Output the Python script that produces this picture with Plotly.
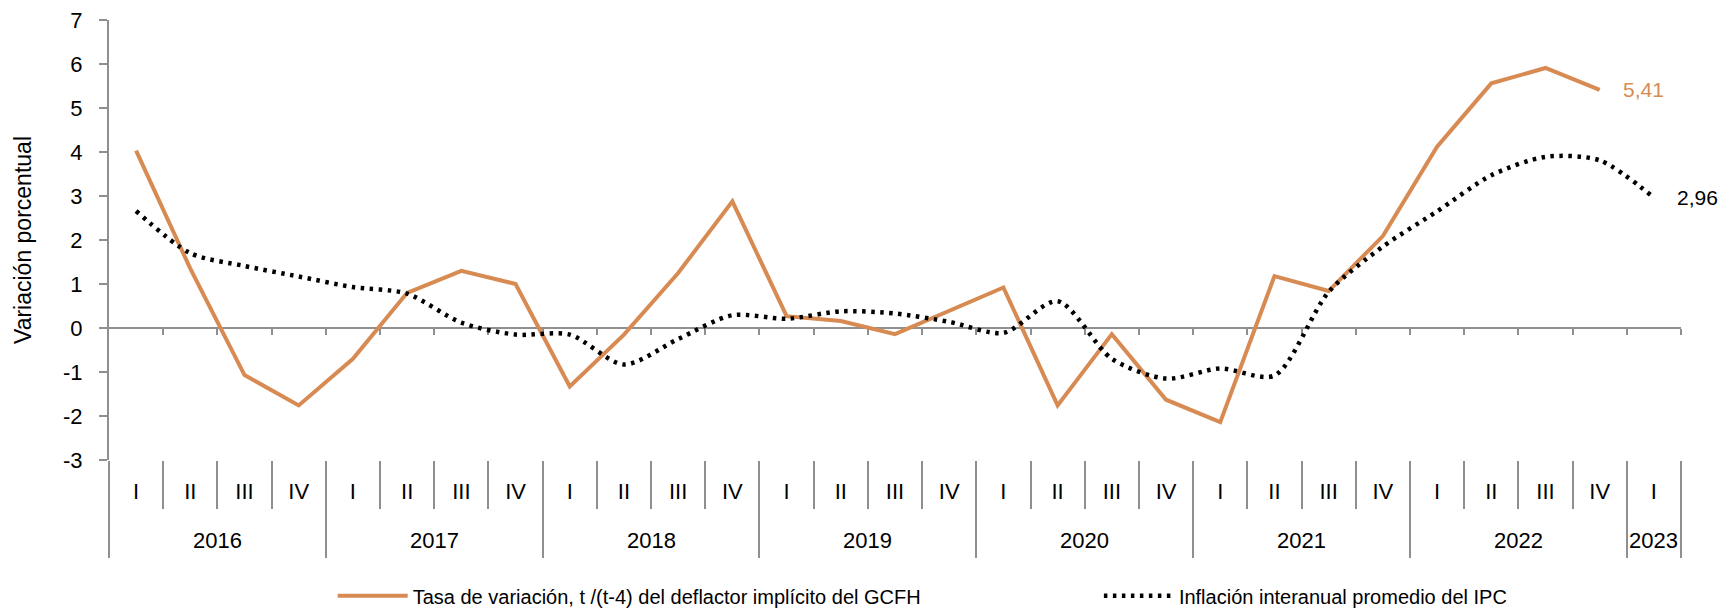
import plotly.graph_objects as go
import numpy as np

quarters = ["I", "II", "III", "IV"] * 7 + ["I"]
years = ["2016"] * 4 + ["2017"] * 4 + ["2018"] * 4 + ["2019"] * 4 + ["2020"] * 4 + ["2021"] * 4 + ["2022"] * 4 + ["2023"]
year_labels = ["2016", "2017", "2018", "2019", "2020", "2021", "2022", "2023"]
y_tick_vals = [-3, -2, -1, 0, 1, 2, 3, 4, 5, 6, 7]
y_tick_text = ["-3", "-2", "-1", "0", "1", "2", "3", "4", "5", "6", "7"]

deflactor = [4.03, 1.35, -1.07, -1.76, -0.70, 0.80, 1.30, 1.00,
             -1.33, -0.15, 1.25, 2.88, 0.27, 0.16, -0.14, 0.39,
             0.92, -1.76, -0.14, -1.63, -2.14, 1.18, 0.84, 2.09,
             4.12, 5.56, 5.91, 5.41, None]
ipc = [2.66, 1.70, 1.41, 1.17, 0.93, 0.78, 0.12, -0.15,
       -0.15, -0.83, -0.25, 0.29, 0.21, 0.38, 0.33, 0.14,
       -0.11, 0.61, -0.70, -1.15, -0.92, -1.08, 0.82, 1.85,
       2.65, 3.47, 3.89, 3.81, 2.96]

name_def = "Tasa de variación, t /(t-4) del deflactor implícito del GCFH"
name_ipc = "Inflación interanual promedio del IPC"

ORANGE = "#D78B53"
GRAY = "#8F8F8F"
FONT = "Liberation Sans, Arial, sans-serif"
FS_TICK = 22
FS_LEG = 20
FS_TITLE = 23
FS_LBL = 21

idx = np.arange(len(quarters))
n = len(quarters)
xr = [-0.5, n - 0.5]
bounds_q = list(np.arange(n + 1) - 0.5)
year_bounds = [-0.5]
year_centers = []
for y in year_labels:
    pos = [i for i, yy in enumerate(years) if yy == y]
    year_centers.append(float(np.mean(pos)))
    year_bounds.append(pos[-1] + 0.5)

fig = go.Figure()
fig.add_trace(go.Scatter(x=idx, y=deflactor, mode="lines", name=name_def,
                         line=dict(color=ORANGE, width=4), legend="legend"))
fig.add_trace(go.Scatter(x=idx, y=ipc, mode="lines", name=name_ipc,
                         line=dict(color="black", width=4.5, dash="3.5px,5.5px", shape="spline", smoothing=0.8),
                         legend="legend2"))

last_def = max(i for i, v in enumerate(deflactor) if v is not None)
last_ipc = max(i for i, v in enumerate(ipc) if v is not None)
annotations = [
    dict(x=last_def, y=deflactor[last_def], xref="x", yref="y", text=f"{deflactor[last_def]:.2f}".replace(".", ","),
         showarrow=False, xanchor="left", xshift=21, font=dict(color=ORANGE, size=FS_LBL, family=FONT)),
    dict(x=last_ipc, y=ipc[last_ipc], xref="x", yref="y", text=f"{ipc[last_ipc]:.2f}".replace(".", ","),
         showarrow=False, xanchor="left", xshift=21, font=dict(color="black", size=FS_LBL, family=FONT)),
]
for yl, xc in zip(year_labels, year_centers):
    annotations.append(dict(x=xc, y=-0.184, xref="x", yref="paper", text=yl, showarrow=False,
                            xanchor="center", yanchor="middle", font=dict(color="black", size=FS_TICK, family=FONT)))

fig.update_layout(
    width=1722, height=608,
    margin=dict(l=109, r=41, t=20, b=148, autoexpand=False),
    paper_bgcolor="white", plot_bgcolor="white",
    font=dict(family=FONT, size=FS_TICK, color="black"),
    annotations=annotations,
    xaxis=dict(range=xr, tickmode="array", tickvals=list(idx), ticktext=quarters,
               ticks="outside", ticklen=12, tickcolor="rgba(0,0,0,0)", showline=False,
               showgrid=False, zeroline=False, tickfont=dict(size=FS_TICK), automargin=False),
    xaxis2=dict(range=xr, overlaying="x", anchor="y", side="bottom", tickmode="array",
                tickvals=bounds_q[1:-1], ticks="outside", ticklen=48, tickwidth=2, tickcolor=GRAY,
                showticklabels=False, showgrid=False, zeroline=False, showline=False, automargin=False),
    xaxis3=dict(range=xr, overlaying="x", anchor="y", side="bottom", tickmode="array",
                tickvals=year_bounds, ticks="outside", ticklen=97, tickwidth=2, tickcolor=GRAY,
                showticklabels=False, showgrid=False, zeroline=False, showline=False, automargin=False),
    xaxis4=dict(range=xr, overlaying="x", anchor="free", position=0.3, side="bottom", tickmode="array",
                tickvals=bounds_q[1:], ticks="outside", ticklen=6, tickwidth=2, tickcolor=GRAY,
                showticklabels=False, showgrid=False, zeroline=False, showline=True,
                linecolor=GRAY, linewidth=2, layer="below traces", automargin=False),
    yaxis=dict(range=[-3, 7], tickmode="array", tickvals=y_tick_vals, ticktext=y_tick_text,
               ticks="outside", ticklen=8, tickwidth=2, tickcolor=GRAY,
               showline=True, linecolor=GRAY, linewidth=2, showgrid=False, zeroline=False,
               ticklabelstandoff=12, automargin=False, tickfont=dict(size=FS_TICK),
               title=dict(text="Variación porcentual", standoff=25, font=dict(size=FS_TITLE))),
    legend=dict(orientation="h", x=0.1423, xref="paper", y=0.02, yref="container",
                xanchor="left", yanchor="middle",
                itemwidth=70, font=dict(size=FS_LEG), bgcolor="rgba(0,0,0,0)"),
    legend2=dict(orientation="h", x=0.6297, xref="paper", y=0.02, yref="container",
                 xanchor="left", yanchor="middle",
                 itemwidth=70, font=dict(size=FS_LEG), bgcolor="rgba(0,0,0,0)"),
    showlegend=True,
)
for ax in ["x2", "x3", "x4"]:
    fig.add_trace(go.Scatter(x=[None], y=[None], xaxis=ax, yaxis="y", showlegend=False, hoverinfo="skip"))

fig.write_html("out.html", config={"displayModeBar": False},
               post_script="document.body.style.margin='0';")
